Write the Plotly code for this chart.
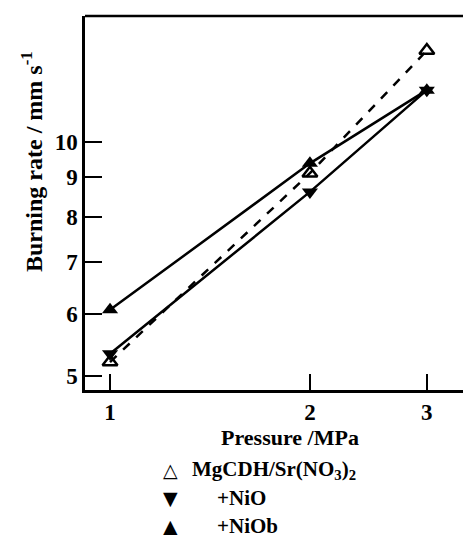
import plotly.graph_objects as go

pressure = [1, 2, 3]
mgcdh = [5.21, 9.11, 13.1]
nio = [5.34, 8.62, 11.65]
niob = [6.08, 9.38, 11.65]

names = ["MgCDH/Sr(NO<sub>3</sub>)<sub>2</sub>", "+NiO", "+NiOb"]
legend_glyphs = ["\u25B3", "\u25BC", "\u25B2"]
y_ticks = [5, 6, 7, 8, 9, 10]
x_ticks = [1, 2, 3]

FONT = "Liberation Serif"
W, H = 463, 535
L, R, T, B = 85, 0, 16, 145
PW, PH = W - L - R, H - T - B


def px(x):
    return (x - L) / PW


def py(y):
    return (H - B - y) / PH


fig = go.Figure()
fig.add_trace(go.Scatter(x=pressure, y=mgcdh, mode="lines+markers", showlegend=False,
                         line=dict(color="black", width=2.5, dash="dash"),
                         marker=dict(symbol="triangle-up-open", size=13, color="black",
                                     line=dict(width=2.5, color="black"))))
fig.add_trace(go.Scatter(x=pressure, y=nio, mode="lines+markers", showlegend=False,
                         line=dict(color="black", width=2.5),
                         marker=dict(symbol="triangle-down", size=14, color="black")))
fig.add_trace(go.Scatter(x=pressure, y=niob, mode="lines+markers", showlegend=False,
                         line=dict(color="black", width=2.5),
                         marker=dict(symbol="triangle-up", size=14, color="black")))

annotations = [
    dict(text="Burning rate / mm s<sup>-1</sup>", xref="paper", yref="paper",
         x=px(32), y=py(162), xanchor="center", yanchor="middle", textangle=-90,
         showarrow=False, font=dict(family=FONT, size=24, weight="bold")),
    dict(text="Pressure /MPa", xref="paper", yref="paper",
         x=px(290), y=py(437), xanchor="center", yanchor="middle",
         showarrow=False, font=dict(family=FONT, size=22, weight="bold")),
]
row_y = [470, 498, 526]
text_x = [190, 215, 215]
for g, nm, ry, tx in zip(legend_glyphs, names, row_y, text_x):
    annotations.append(dict(text=g, xref="paper", yref="paper", x=px(170), y=py(ry),
                            xanchor="center", yanchor="middle", showarrow=False,
                            font=dict(family="DejaVu Sans", size=19, color="black",
                                      weight="bold")))
    annotations.append(dict(text=nm, xref="paper", yref="paper", x=px(tx), y=py(ry),
                            xanchor="left", yanchor="middle", showarrow=False,
                            font=dict(family=FONT, size=21, weight="bold")))

fig.update_layout(
    width=W, height=H,
    margin=dict(l=L, r=R, t=T, b=B, autoexpand=False),
    paper_bgcolor="white", plot_bgcolor="white",
    font=dict(family=FONT, size=22, color="black", weight="bold"),
    showlegend=False,
    xaxis=dict(type="log", range=[-0.0377, 0.5316], tickvals=x_ticks,
               ticktext=[str(v) for v in x_ticks], automargin=False,
               showline=True, linecolor="black", linewidth=2.5,
               ticks="inside", ticklen=16, tickwidth=2, tickcolor="black",
               showgrid=False, zeroline=False, ticklabelstandoff=0,
               tickfont=dict(family=FONT, size=23, weight="bold")),
    yaxis=dict(type="log", range=[0.6809, 1.1616], tickvals=y_ticks,
               ticktext=[str(v) for v in y_ticks], automargin=False,
               showline=True, linecolor="black", linewidth=2.5,
               ticks="inside", ticklen=17, tickwidth=2, tickcolor="black",
               showgrid=False, zeroline=False,
               tickfont=dict(family=FONT, size=23, weight="bold")),
    shapes=[dict(type="line", xref="paper", yref="paper", x0=0, x1=1, y0=1, y1=1,
                 line=dict(color="black", width=2.5))],
    annotations=annotations,
)

fig.write_html("out.html")
